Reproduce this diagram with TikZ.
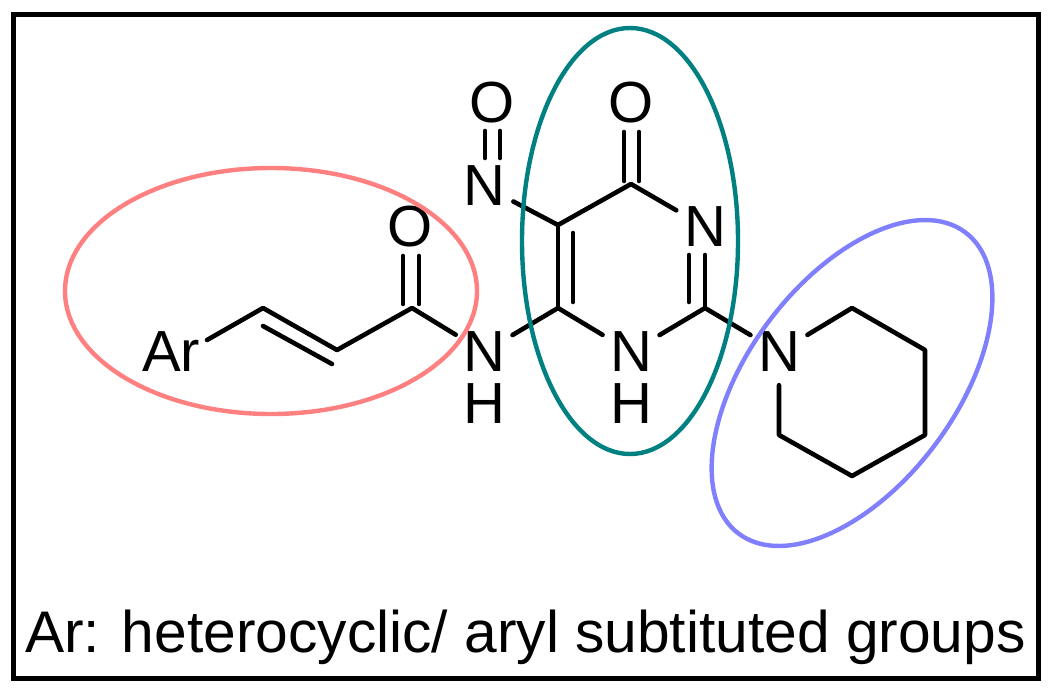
\documentclass[tikz,border=0pt]{standalone}
\usepackage{fontspec}
\setmainfont{Liberation Sans}
\usetikzlibrary{calc}
\definecolor{ringred}{HTML}{FF8080}
\definecolor{ringteal}{HTML}{008080}
\definecolor{ringblue}{HTML}{8080FF}
\tikzset{
  atom/.style={circle,inner sep=0pt,minimum size=66pt,font=\fontsize{58}{58}\selectfont},
  label/.style={inner sep=0pt,font=\fontsize{58}{58}\selectfont},
  caption/.style={inner sep=0pt,font=\fontsize{58.7}{58.7}\selectfont},
  bond/.style={line width=4.6pt,line cap=round,line join=round,black},
  ring/.style={line width=4.4pt,fill=none},
}
\begin{document}
\begin{tikzpicture}[x=1pt,y=-1pt]
\useasboundingbox (0,0) rectangle (1059,699);
\fill[white] (0,0) rectangle (1059,699);
\draw[line width=5pt,black] (13.5,14) rectangle (1038,678);
% carbons
\coordinate (c4) at (631,184);
\coordinate (c5) at (558,225);
\coordinate (c6) at (558,308);
\coordinate (c2) at (705,308);
\coordinate (va) at (263,308);
\coordinate (vb) at (337,350);
\coordinate (co) at (412,308);
\coordinate (p1) at (852,308);
\coordinate (p2) at (925,350);
\coordinate (p3) at (925,435);
\coordinate (p4) at (852,476);
\coordinate (p5) at (779,435);
% atoms
\node[atom] (o1) at (492,103) {O};
\node[atom] (nno) at (484,186) {N};
\node[atom] (o2) at (631,103) {O};
\node[atom] (n3) at (705,227) {N};
\node[atom] (n1) at (631,352) {N};
\node[label] (h1) at (631,404) {H};
\node[atom] (nam) at (484,352) {N};
\node[label] (h2) at (484,404) {H};
\node[atom] (npi) at (779,352) {N};
\node[atom] (o3) at (410,227) {O};
\node[label] (ar) at (171,352) {Ar};
\coordinate (arend) at (207,340);
% bonds
\draw[bond] (nno) -- (c5) -- (c4) -- (n3);
\draw[bond] (c5) -- (c6);
\draw[bond] (573,233) -- (573,302);
\draw[bond] (nam) -- (c6) -- (n1) -- (c2) -- (npi);
\draw[bond] (c2) -- (705,255);
\draw[bond] (689,255) -- (689,302);
\draw[bond] (485,131) -- (485,158);
\draw[bond] (500,131) -- (500,158);
\draw[bond] (624,132) -- (624,181);
\draw[bond] (639,132) -- (639,181);
\draw[bond] (arend) -- (va) -- (vb) -- (co) -- (nam);
\draw[bond] (263,326) -- (332,364);
\draw[bond] (403,256) -- (403,304);
\draw[bond] (419,256) -- (419,304);
\draw[bond] (npi) -- (p1) -- (p2) -- (p3) -- (p4) -- (p5) -- (npi);
% highlight ellipses
\draw[ring,ringred] (271,291) ellipse [x radius=206,y radius=123];
\draw[ring,ringteal] (630,241) ellipse [x radius=108,y radius=213];
\draw[ring,ringblue,rotate around={53:(852,383)}] (852,383) ellipse [x radius=188.5,y radius=103.5];
\node[caption,anchor=base] (cap) at (525.5,652) {Ar: heterocyclic/ aryl subtituted groups};
\end{tikzpicture}
\end{document}
